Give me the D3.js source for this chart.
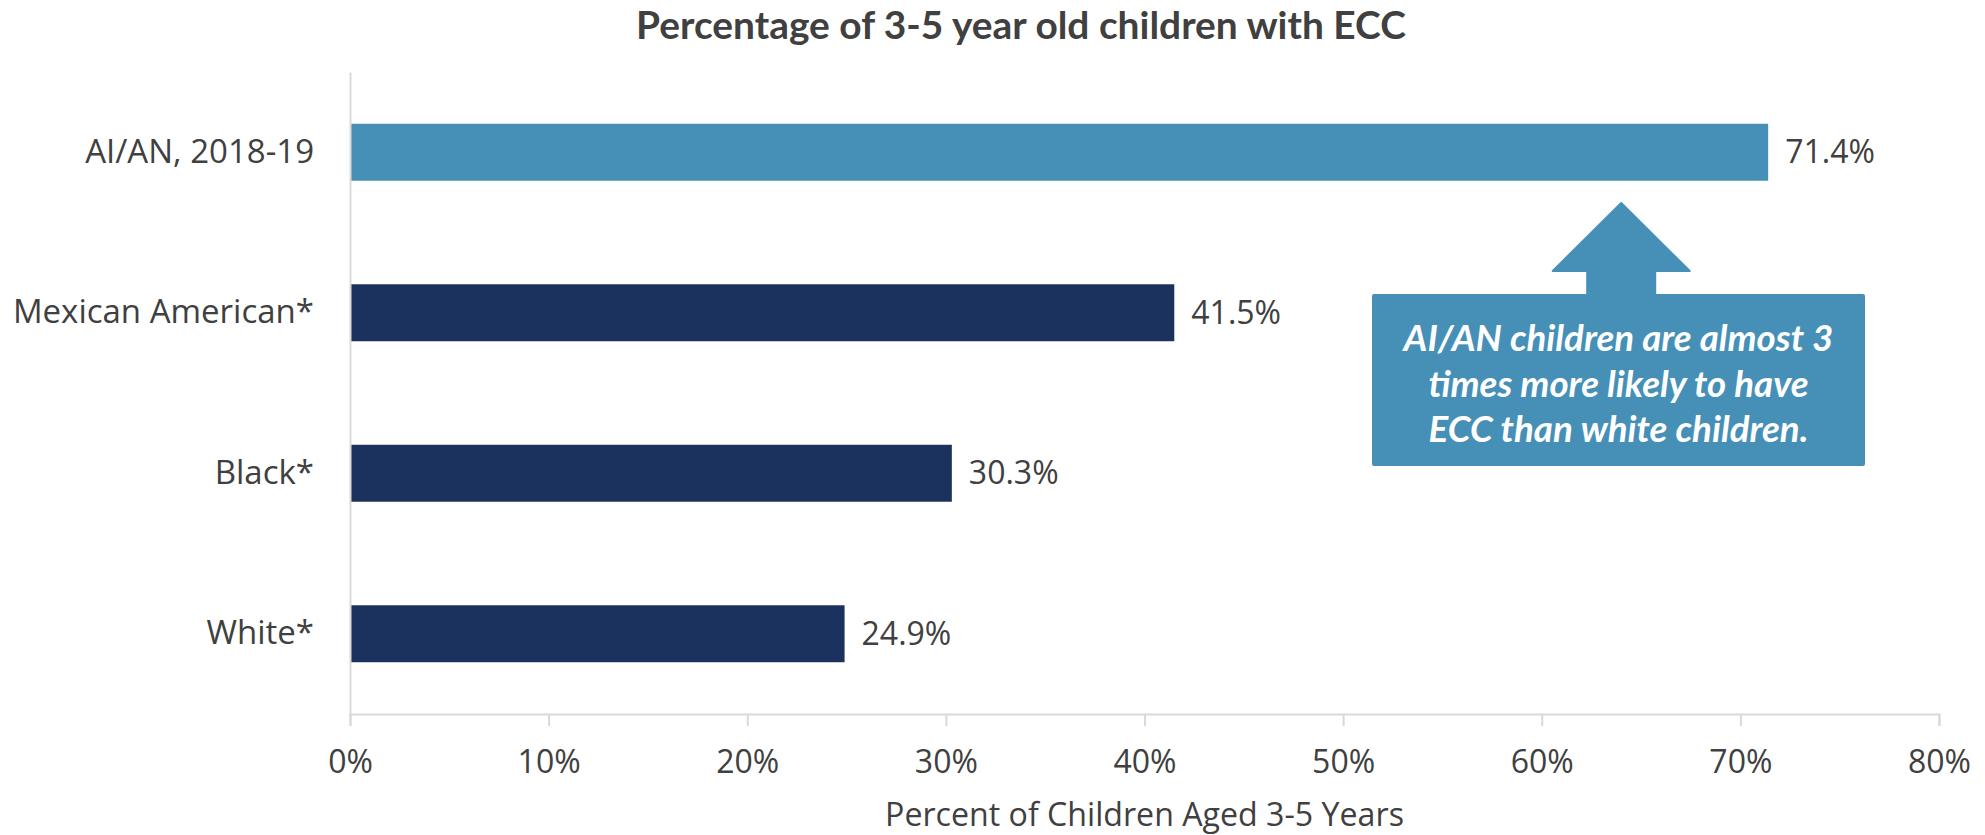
<!DOCTYPE html>
<html>
<head>
<meta charset="utf-8">
<script src="https://cdn.jsdelivr.net/npm/d3@7"></script>
<style>
  html, body { margin: 0; padding: 0; background: #ffffff; }
  svg { display: block; }
</style>
</head>
<body>
<svg id="chart" width="1985" height="835"></svg>
<script>
// ---- data ----
const categories = ["AI/AN, 2018-19", "Mexican American*", "Black*", "White*"];
const values = [71.4, 41.5, 30.3, 24.9];
const highlight = [true, false, false, false];
const xTicks = [0, 10, 20, 30, 40, 50, 60, 70, 80];
const titleText = "Percentage of 3-5 year old children with ECC";
const xAxisTitle = "Percent of Children Aged 3-5 Years";
const calloutLines = ["AI/AN children are almost 3", "times more likely to have", "ECC than white children."];

// ---- layout ----
const W = 1985, H = 835;
const plot = { left: 350, right: 1939, top: 72, bottom: 714 };
const textColor = "#404040";
const axisColor = "#d9d9d9";
const lightBlue = "#4690b8";
const darkBlue = "#1b315e";

const svg = d3.select("#chart");

const x = d3.scaleLinear().domain([0, 80]).range([plot.left, plot.right]);
const y = d3.scaleBand().domain(categories).range([plot.top, plot.bottom])
  .paddingInner(0.645).paddingOuter(0.3225);

function fitWidth(sel, target) {
  const node = sel.node();
  const fs = parseFloat(sel.attr("font-size"));
  const w = node.getComputedTextLength();
  sel.attr("font-size", (fs * target / w).toFixed(2));
}

// title
const title = svg.append("text")
  .attr("x", 1021).attr("y", 39)
  .attr("text-anchor", "middle")
  .attr("font-family", "Lato, 'Open Sans', sans-serif")
  .attr("font-weight", 700)
  .attr("font-size", 34)
  .attr("fill", textColor)
  .text(titleText);
fitWidth(title, 770);

// bars
svg.append("g").selectAll("rect")
  .data(categories)
  .join("rect")
  .attr("x", x(0))
  .attr("y", d => y(d))
  .attr("width", (d, i) => x(values[i]) - x(0))
  .attr("height", y.bandwidth())
  .attr("fill", (d, i) => highlight[i] ? lightBlue : darkBlue);

// x axis
const xAxis = d3.axisBottom(x)
  .tickValues(xTicks)
  .tickFormat(d => d + "%")
  .tickSize(12)
  .tickPadding(24);
const gx = svg.append("g")
  .attr("transform", `translate(0,${plot.bottom})`)
  .call(xAxis);
gx.select(".domain").attr("stroke", axisColor).attr("stroke-width", 2);
gx.selectAll(".tick line").attr("stroke", axisColor).attr("stroke-width", 2);
gx.selectAll(".tick text")
  .attr("font-family", "'Open Sans', sans-serif")
  .attr("font-size", 32)
  .attr("fill", textColor);

// y axis
const yAxis = d3.axisLeft(y).tickSize(0).tickPadding(36);
const gy = svg.append("g")
  .attr("transform", `translate(${plot.left},0)`)
  .call(yAxis);
gy.select(".domain").attr("stroke", axisColor).attr("stroke-width", 2);
gy.selectAll(".tick text")
  .attr("font-family", "'Open Sans', sans-serif")
  .attr("font-size", 33)
  .attr("fill", textColor);

// value labels
svg.append("g").selectAll("text")
  .data(categories)
  .join("text")
  .attr("x", (d, i) => x(values[i]) + 17)
  .attr("y", d => y(d) + y.bandwidth() / 2)
  .attr("dy", "0.35em")
  .attr("font-family", "'Open Sans', sans-serif")
  .attr("font-size", 32)
  .attr("fill", textColor)
  .text((d, i) => values[i].toFixed(1) + "%");

// x axis title
const xt = svg.append("text")
  .attr("x", (plot.left + plot.right) / 2)
  .attr("y", 826)
  .attr("text-anchor", "middle")
  .attr("font-family", "'Open Sans', sans-serif")
  .attr("font-size", 30)
  .attr("fill", textColor)
  .text(xAxisTitle);
fitWidth(xt, 519);

// callout: arrow + box
const cx = x(64);
const box = { left: 1372, right: 1865, top: 294, bottom: 466 };
const headW = 68.5, shaftW = 34, tipY = 203, headBaseY = 271;
const arrowPts = [
  [cx, tipY], [cx + headW, headBaseY], [cx + shaftW, headBaseY], [cx + shaftW, box.top + 2],
  [cx - shaftW, box.top + 2], [cx - shaftW, headBaseY], [cx - headW, headBaseY]
];
svg.append("polygon")
  .attr("points", arrowPts.map(p => p.join(",")).join(" "))
  .attr("fill", lightBlue)
  .attr("stroke", lightBlue)
  .attr("stroke-width", 2)
  .attr("stroke-linejoin", "round");
svg.append("rect")
  .attr("x", box.left).attr("y", box.top)
  .attr("width", box.right - box.left).attr("height", box.bottom - box.top)
  .attr("rx", 2)
  .attr("fill", lightBlue);

const lineYs = [351, 397, 442];
const cl = svg.append("g").selectAll("text")
  .data(calloutLines)
  .join("text")
  .attr("x", (box.left + box.right) / 2)
  .attr("y", (d, i) => lineYs[i])
  .attr("text-anchor", "middle")
  .attr("font-family", "Lato, 'Open Sans', sans-serif")
  .attr("font-weight", 700)
  .attr("font-style", "italic")
  .attr("font-size", 32)
  .attr("fill", "#ffffff")
  .text(d => d);
// fit first line to target width, apply same size to all
{
  const n = cl.nodes()[0];
  const w = n.getComputedTextLength();
  const fs = 32 * 430 / w;
  cl.attr("font-size", fs.toFixed(2));
}
</script>
</body>
</html>
